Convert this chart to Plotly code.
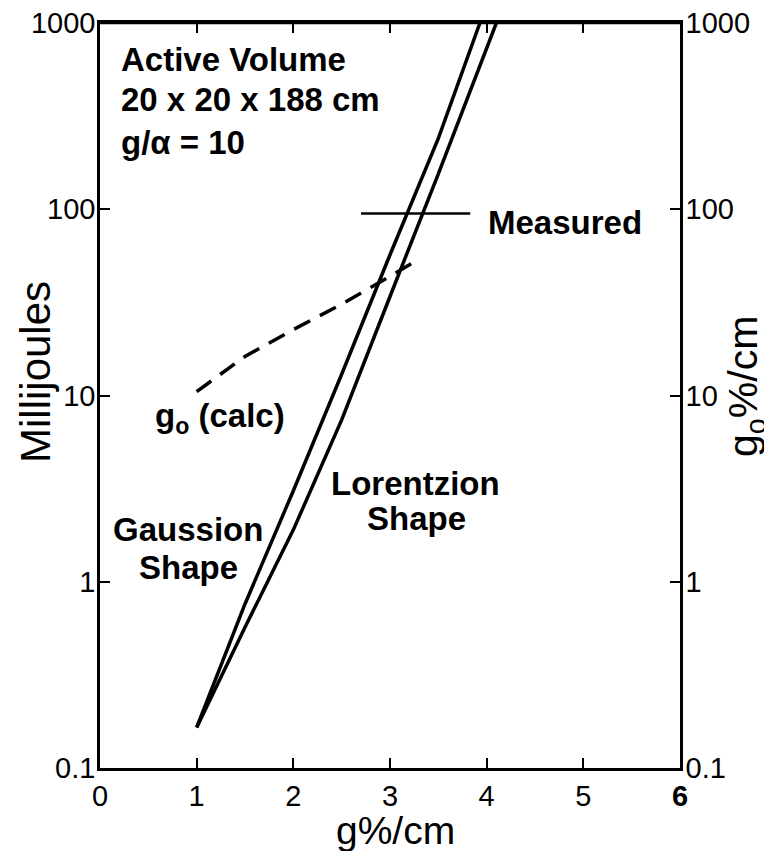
import plotly.graph_objects as go

# ---- data ----
gauss_x = [1.0, 1.15, 1.5, 2.0, 2.5, 3.0, 3.5, 3.93]
gauss_y = [0.165, 0.26, 0.76, 3.08, 13.0, 57.0, 240.0, 1000.0]

lorentz_x = [1.0, 1.2, 1.5, 2.0, 2.5, 3.0, 3.5, 4.1]
lorentz_y = [0.165, 0.27, 0.57, 1.9, 7.4, 34.0, 155.0, 1000.0]

g0_calc_x = [1.0, 1.5, 2.0, 2.5, 3.0, 3.3]
g0_calc_y = [10.5, 16.2, 22.6, 30.9, 43.6, 54.0]

measured_x = [2.7, 3.83]
measured_y = [95.0, 95.0]

x_ticks = [0, 1, 2, 3, 4, 5, 6]
x_ticktext = ["0", "1", "2", "3", "4", "5", "<b>6</b>"]
y_ticks = [0.1, 1, 10, 100, 1000]
y_ticktext = ["0.1", "1", "10", "100", "1000"]

FONT = "Liberation Sans, Arial, Helvetica, sans-serif"
BLACK = "#000000"

fig = go.Figure()
fig.add_trace(go.Scatter(x=gauss_x, y=gauss_y, mode="lines",
                         line=dict(color=BLACK, width=3.5), name="Gaussion Shape"))
fig.add_trace(go.Scatter(x=lorentz_x, y=lorentz_y, mode="lines",
                         line=dict(color=BLACK, width=3.5), name="Lorentzion Shape"))
fig.add_trace(go.Scatter(x=measured_x, y=measured_y, mode="lines",
                         line=dict(color=BLACK, width=2.5), name="Measured"))
fig.add_trace(go.Scatter(x=g0_calc_x, y=g0_calc_y, mode="lines", yaxis="y2",
                         line=dict(color=BLACK, width=3.5, dash="18px,11px"),
                         name="g0 (calc)"))

axis_common = dict(showgrid=False, zeroline=False, showline=True, linecolor=BLACK,
                   linewidth=2.5, ticks="inside", ticklen=10, tickwidth=2,
                   tickcolor=BLACK, automargin=False, ticklabeloverflow="allow",
                   tickfont=dict(family=FONT, size=29, color=BLACK))

# page body adds an 8px offset; figure is sized so plot area lands at
# screen x 100..680, y 23..768
fig.update_layout(
    width=764, height=843,
    margin=dict(l=92, r=92, t=15, b=83, autoexpand=False),
    paper_bgcolor="white", plot_bgcolor="white",
    showlegend=False,
    xaxis=dict(range=[0, 6], tickvals=x_ticks, ticktext=x_ticktext,
               mirror="ticks", **axis_common),
    yaxis=dict(type="log", range=[-1, 3], tickvals=y_ticks, ticktext=y_ticktext,
               ticklabelstandoff=-4, **axis_common),
    yaxis2=dict(type="log", range=[-1, 3], tickvals=y_ticks, ticktext=y_ticktext,
                overlaying="y", side="right", ticklabelstandoff=-3, **axis_common),
)

# top frame of the plot area
fig.add_shape(type="line", xref="paper", yref="paper", x0=0, x1=1, y0=1, y1=1,
              line=dict(color=BLACK, width=2.5), layer="above")

def px_x(p):
    return (p - 100) / 580.0

def px_y(p):
    return (768 - p) / 745.0

bold = dict(family=FONT, size=33, color=BLACK)
notes = [
    ("<b>Active Volume</b>", 119, 59.5, "left"),
    ("<b>20 x 20 x 188 cm</b>", 119, 99, "left"),
    ("<b>g/α = 10</b>", 119, 142, "left"),
    ("<b>Measured</b>", 486, 223, "left"),
    ("<b>g<sub>o</sub> (calc)</b>", 153, 418, "left"),
    ("<b>Lorentzion</b>", 415, 483.5, "center"),
    ("<b>Shape</b>", 416, 518.5, "center"),
    ("<b>Gaussion</b>", 188, 529.5, "center"),
    ("<b>Shape</b>", 188, 567.5, "center"),
]
for text, xp, yp, anchor in notes:
    fig.add_annotation(text=text, xref="paper", yref="paper", x=px_x(xp), y=px_y(yp),
                       xanchor=anchor, yanchor="middle", showarrow=False, font=bold)

fig.add_annotation(text="Millijoules", xref="paper", yref="paper", x=px_x(35), y=px_y(372),
                   textangle=-90, showarrow=False, xanchor="center", yanchor="middle",
                   font=dict(family=FONT, size=42, color=BLACK))
fig.add_annotation(text="g<sub>o</sub>%/cm", xref="paper", yref="paper", x=px_x(746),
                   y=px_y(386), textangle=-90, showarrow=False, xanchor="center",
                   yanchor="middle", font=dict(family=FONT, size=41, color=BLACK))
fig.add_annotation(text="g%/cm", xref="paper", yref="paper", x=px_x(395), y=px_y(830),
                   showarrow=False, xanchor="center", yanchor="middle",
                   font=dict(family=FONT, size=39, color=BLACK))

fig.write_html("out.html")
